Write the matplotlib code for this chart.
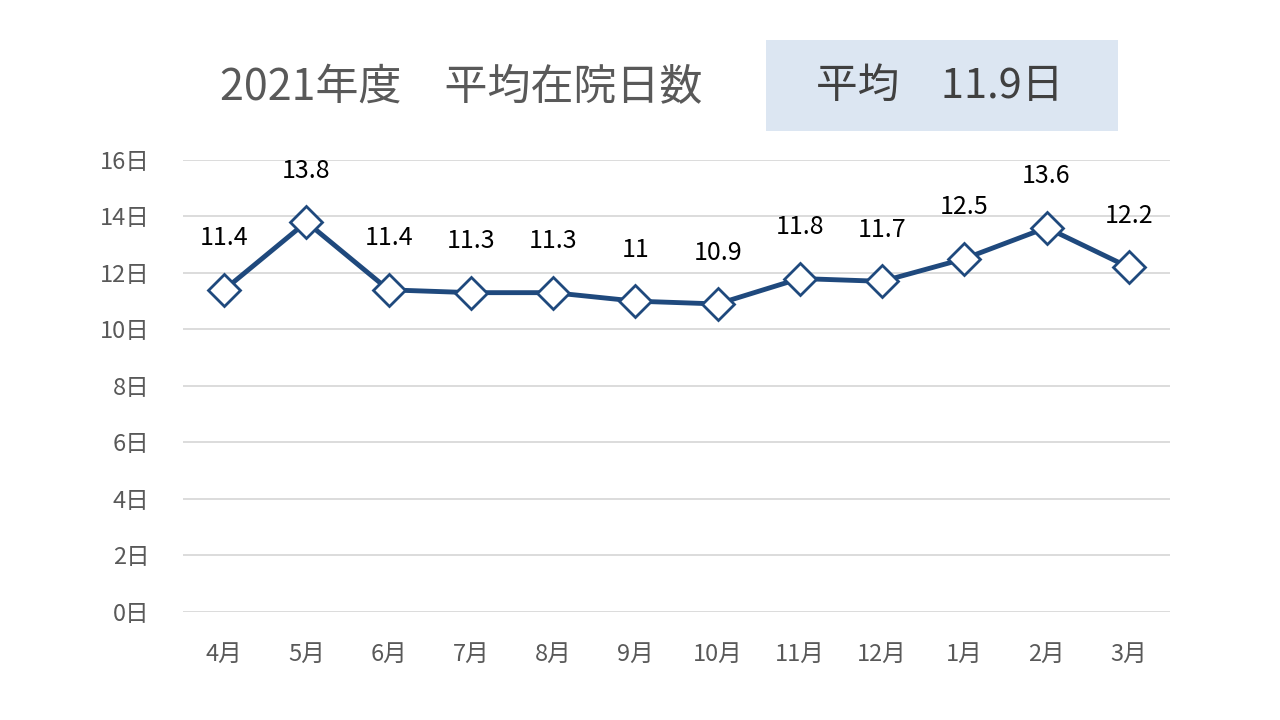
import matplotlib
matplotlib.use("Agg")
import matplotlib.pyplot as plt
from matplotlib.patches import Rectangle

plt.rcParams['font.family'] = ['Noto Sans CJK JP', 'DejaVu Sans']

months = ["4月", "5月", "6月", "7月", "8月", "9月", "10月", "11月", "12月", "1月", "2月", "3月"]
days = [11.4, 13.8, 11.4, 11.3, 11.3, 11.0, 10.9, 11.8, 11.7, 12.5, 13.6, 12.2]
labels = ["11.4", "13.8", "11.4", "11.3", "11.3", "11", "10.9", "11.8", "11.7", "12.5", "13.6", "12.2"]
yticks = [0, 2, 4, 6, 8, 10, 12, 14, 16]
avg_text = "平均　11.9日"

fig = plt.figure(figsize=(12.8, 7.2), dpi=100)
ax = fig.add_axes([0.143, 0.15, 0.771, 0.628])

x = list(range(len(months)))
line_c = "#1f497d"
ax.plot(x, days, color=line_c, lw=3.5, marker="D", markersize=16,
        markerfacecolor="white", markeredgecolor=line_c, markeredgewidth=2, zorder=3)

for xi, v, t in zip(x, days, labels):
    ax.annotate(t, (xi, v), xytext=(0, 37), textcoords="offset points",
                ha="center", va="center", fontsize=18, color="black")

ax.set_xlim(-0.5, len(months) - 0.5)
ax.set_ylim(0, 16)
ax.set_yticks(yticks)
ax.set_yticklabels([f"{t}日" for t in yticks])
ax.set_xticks(x)
ax.set_xticklabels(months)
ax.tick_params(axis="both", length=0, labelsize=17, labelcolor="#595959")
ax.tick_params(axis="x", pad=22)
ax.tick_params(axis="y", pad=24)
ax.grid(axis="y", color="#d9d9d9", lw=1.3)
ax.set_axisbelow(True)
for s in ax.spines.values():
    s.set_visible(False)

fig.text(461 / 1280, 1 - 88 / 720, "2021年度　平均在院日数", ha="center", va="center",
         fontsize=31, color="#595959")
fig.patches.append(Rectangle((766 / 1280, 1 - 131 / 720), 352 / 1280, 91 / 720,
                             transform=fig.transFigure, facecolor="#dce6f2", edgecolor="none"))
fig.text(940 / 1280, 1 - 86 / 720, avg_text, ha="center", va="center",
         fontsize=30, color="#404040")

fig.savefig("out.png", dpi=100)
